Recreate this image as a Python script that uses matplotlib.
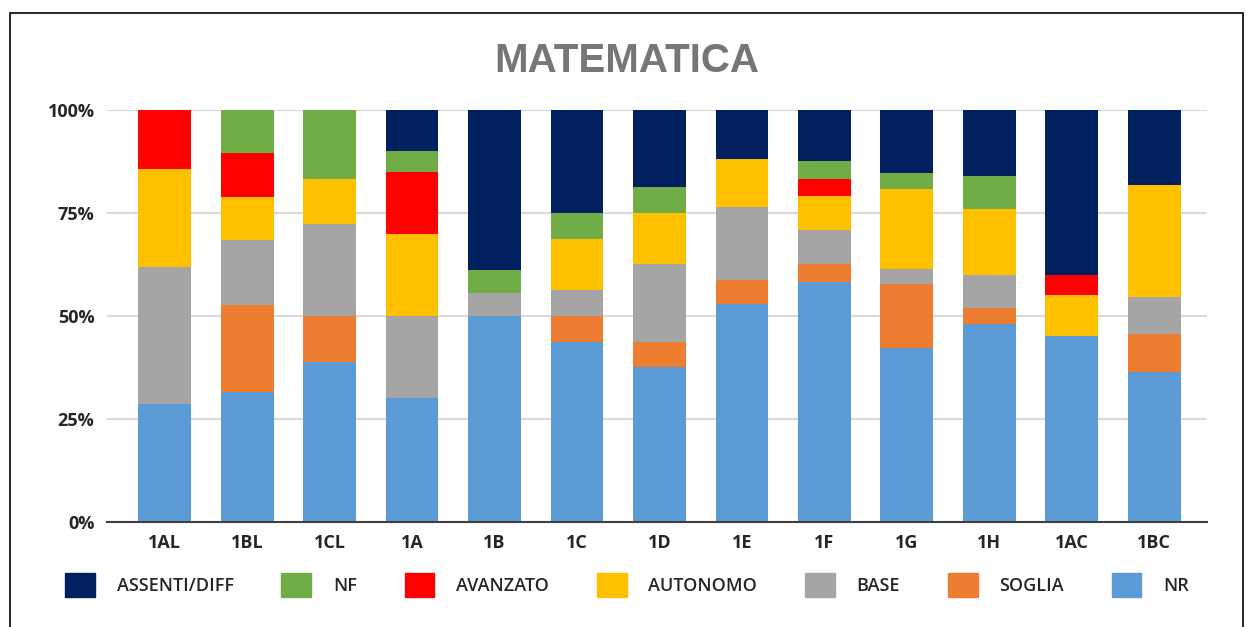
"""Stacked 100% bar chart of MATEMATICA levels per class."""

import matplotlib

matplotlib.use("Agg")
import matplotlib.pyplot as plt  # noqa: E402
import numpy as np  # noqa: E402
from matplotlib.patches import Patch, Rectangle  # noqa: E402
from matplotlib.ticker import FixedLocator  # noqa: E402

classes = ["1AL", "1BL", "1CL", "1A", "1B", "1C", "1D", "1E", "1F", "1G", "1H", "1AC", "1BC"]

# percentages, bottom to top
nr = [28.6, 31.6, 38.9, 30.0, 50.0, 43.75, 37.5, 52.9, 58.3, 42.3, 48.0, 45.0, 36.4]
soglia = [0.0, 21.05, 11.1, 0.0, 0.0, 6.25, 6.25, 5.9, 4.2, 15.4, 4.0, 0.0, 9.1]
base = [33.3, 15.8, 22.2, 20.0, 5.6, 6.25, 18.75, 17.6, 8.3, 3.8, 8.0, 0.0, 9.1]
autonomo = [23.8, 10.5, 11.1, 20.0, 0.0, 12.5, 12.5, 11.8, 8.3, 19.2, 16.0, 10.0, 27.3]
avanzato = [14.3, 10.5, 0.0, 15.0, 0.0, 0.0, 0.0, 0.0, 4.2, 0.0, 0.0, 5.0, 0.0]
nf = [0.0, 10.55, 16.7, 5.0, 5.6, 6.25, 6.25, 0.0, 4.2, 3.9, 8.0, 0.0, 0.0]
assenti = [0.0, 0.0, 0.0, 10.0, 38.8, 25.0, 18.75, 11.8, 12.5, 15.4, 16.0, 40.0, 18.1]

series = [
    ("NR", nr, "#5B9BD5"),
    ("SOGLIA", soglia, "#ED7D31"),
    ("BASE", base, "#A5A5A5"),
    ("AUTONOMO", autonomo, "#FFC000"),
    ("AVANZATO", avanzato, "#FF0000"),
    ("NF", nf, "#70AD47"),
    ("ASSENTI/DIFF", assenti, "#002060"),
]

fig = plt.figure(figsize=(12.46, 6.27), dpi=100)
ax = fig.add_axes([107 / 1246, 1 - 521.7 / 627, 1100 / 1246, 411.7 / 627])

x = np.arange(len(classes))
bottom = np.zeros(len(classes))
for name, vals, color in series:
    vals = np.array(vals)
    ax.bar(x, vals, bottom=bottom, width=0.64, color=color, zorder=3, linewidth=0)
    bottom += vals

ax.set_xlim(-0.7, len(classes) - 1 + 0.64)
ax.set_ylim(0, 100)
ax.yaxis.set_major_locator(FixedLocator([0, 25, 50, 75, 100]))
ax.set_yticklabels(["0%", "25%", "50%", "75%", "100%"])
ax.set_xticks(x)
ax.set_xticklabels(classes)
ax.grid(axis="y", color="#D9D9D9", linewidth=1.5, zorder=0)
for side in ["top", "right", "left"]:
    ax.spines[side].set_visible(False)
ax.spines["bottom"].set_color("#404040")
ax.spines["bottom"].set_linewidth(1.5)
ax.spines["bottom"].set_zorder(4)
ax.tick_params(axis="both", length=0, labelsize=13, labelcolor="#262626")
ax.tick_params(axis="y", pad=9)
ax.tick_params(axis="x", pad=9)
for lbl in ax.get_xticklabels() + ax.get_yticklabels():
    lbl.set_fontfamily("Open Sans")
    lbl.set_fontweight("bold")

fig.text(627 / 1246, 1 - 61 / 627, "MATEMATICA", ha="center", va="center",
         fontsize=29, fontweight="bold", color="#767676", family="Liberation Sans")

handles = [Patch(facecolor=c, edgecolor=c, label=n) for n, _, c in reversed(series)]
leg = fig.legend(handles=handles, ncol=7, loc="center", bbox_to_anchor=(627 / 1246, 1 - 585 / 627),
                 frameon=False, handlelength=1.65, handleheight=1.65, handletextpad=1.2,
                 columnspacing=2.65, prop={"family": "Open Sans", "size": 13, "weight": "semibold"})
for t in leg.get_texts():
    t.set_color("#262626")

fig.patches.append(Rectangle((10 / 1246, -0.1), 1233 / 1246, 1.1 - 13 / 627,
                             transform=fig.transFigure, fill=False,
                             edgecolor="black", linewidth=1.2))

fig.savefig("out.png", dpi=100)
